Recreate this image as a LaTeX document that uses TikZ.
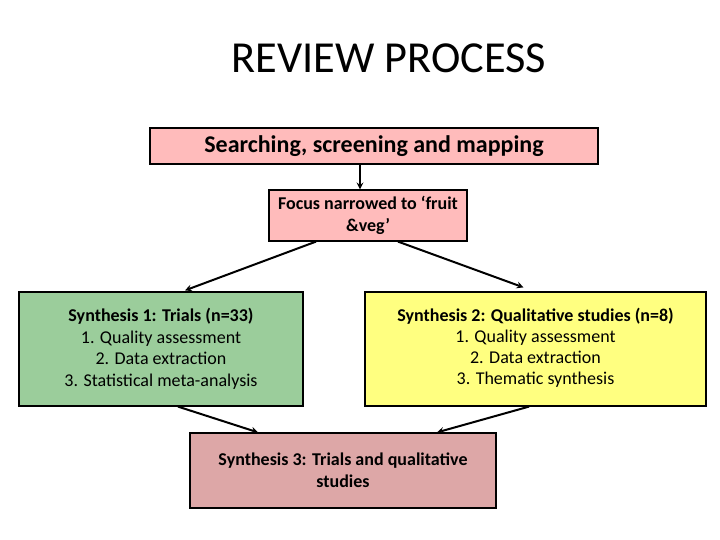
\documentclass[tikz,border=0pt]{standalone}
\usepackage{fontspec}
\setmainfont{Carlito}
\usetikzlibrary{arrows, positioning, calc}
\definecolor{searchpink}{RGB}{255,187,187}
\definecolor{synthpink}{RGB}{221,167,167}
\definecolor{trialgreen}{RGB}{155,205,155}
\definecolor{qualyellow}{RGB}{255,255,128}
\tikzstyle{stage} = [rectangle, draw=black, line width=1.2pt, text centered, align=center, inner sep=0pt]
\tikzstyle{arrow} = [line width=2pt,->,>=stealth]

\begin{document}
\begin{tikzpicture}[x=1pt,y=-1pt]
                \useasboundingbox (0,0) rectangle (720,540);
                \node (title) at (389,58) {\fontsize{44.3}{48}\selectfont REVIEW PROCESS};
                \node (search) [stage, fill=searchpink, minimum width=448pt, minimum height=36pt,
                font=\fontsize{24}{26}\selectfont\bfseries] at (374,146) {Searching, screening and mapping};
                \node (focus) [stage, fill=searchpink, minimum width=198pt, minimum height=51pt,
                font=\fontsize{18}{22}\selectfont\bfseries] at (368,215.5) {Focus narrowed to ‘fruit\\ \&veg’};
                \node (trials) [stage, fill=trialgreen, minimum width=284pt, minimum height=114pt,
                font=\fontsize{18}{21.5}\selectfont] at (161,349) {\textbf{Synthesis 1: Trials (n=33)}\\
                1. Quality assessment\\ 2. Data extraction\\ 3. Statistical meta-analysis};
                \node (qual) [stage, fill=qualyellow, minimum width=341pt, minimum height=114pt,
                font=\fontsize{18}{21.3}\selectfont] at (535.5,349) {\textbf{Synthesis 2: Qualitative studies (n=8)}\\
                1. Quality assessment\\ 2. Data extraction\\ 3. Thematic synthesis\\[-16pt]};
                \node (both) [stage, fill=synthpink, minimum width=306pt, minimum height=75pt,
                font=\fontsize{18}{22}\selectfont\bfseries] at (343,470.5) {Synthesis 3: Trials and qualitative\\ studies};

                \draw [arrow] ($(search.south)+(-14,0)$) -- ($(focus.north)+(-8,0)$);
                \draw [arrow] ($(focus.south)+(-52,0)$) -- ($(trials.north)+(24,-1)$);
                \draw [arrow] ($(focus.south)+(30,0)$) -- ($(qual.north)+(-12,-4)$);
                \draw [arrow] ($(trials.south)+(17,0)$) -- ($(both.north)+(-85,0)$);
                \draw [arrow] ($(qual.south)+(-6.5,0)$) -- ($(both.north)+(94,0)$);
\end{tikzpicture}
\end{document}
